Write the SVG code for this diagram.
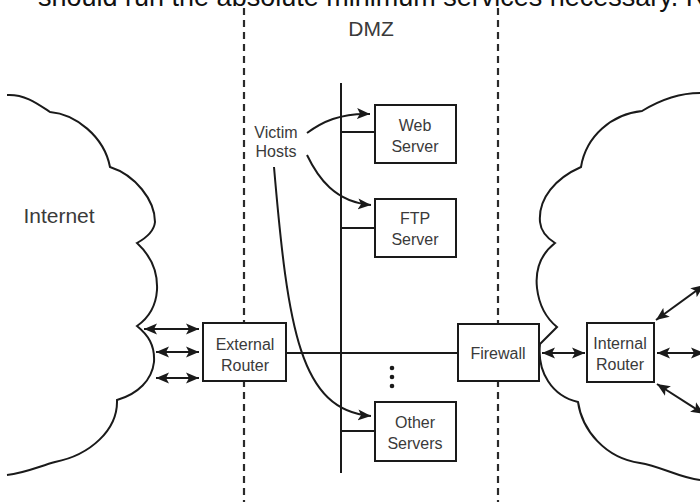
<svg xmlns="http://www.w3.org/2000/svg" width="700" height="502" viewBox="0 0 700 502">
<defs>
<style>
.ln{stroke:#1a1a1a;stroke-width:2;fill:none}
.dash{stroke:#2a2a2a;stroke-width:2.2;stroke-dasharray:7 5;fill:none}
.box{stroke:#1a1a1a;stroke-width:2;fill:#fff}
.cloud{stroke:#1a1a1a;stroke-width:2;fill:none}
.t{font-family:"Liberation Sans",Arial,sans-serif;font-size:16px;fill:#3a3a3a;text-anchor:middle}
.big{font-size:21px}
.arr{marker-end:url(#ah)}
.dbl{marker-start:url(#ah);marker-end:url(#ah)}
</style>
<marker id="ah" markerUnits="userSpaceOnUse" markerWidth="14" markerHeight="12" viewBox="0 0 14 12" refX="13" refY="6" orient="auto-start-reverse">
<path d="M0,0.5 L13,6 L0,11.5 L3,6 z" fill="#1a1a1a"/>
</marker>
</defs>

<text x="38" y="6" style="font-family:'Liberation Sans',Arial,sans-serif;font-size:27px;fill:#111">should run the absolute minimum services necessary. R</text>

<g id="zones">
<line class="dash" x1="244" y1="8" x2="244" y2="502"/>
<line class="dash" x1="498" y1="8" x2="498" y2="502"/>
<text class="t big" x="371" y="36">DMZ</text>
</g>

<g id="internet">
<path class="cloud" d="M7,95 C25,94 38,104 50,112 C75,114 104,136 110,167 C135,175 155,200 155,222 C154,232 146,238 137,243 C150,255 158,270 157,290 C156,305 150,317 137,326 C148,335 155,345 154,362 C152,380 138,394 117,400 C118,430 90,455 55,462 C40,466 25,473 7,475"/>
<text class="t big" x="59" y="223">Internet</text>
</g>

<g id="internal-net">
<path class="cloud" d="M700,93 C680,93 660,100 642,111 C612,114 586,136 581,167 C556,178 538,198 540,222 C541,232 547,238 555,243 C541,254 535,270 537,288 C539,305 546,318 557,327 L540,344 C537,372 552,396 578,402 C582,430 605,458 640,463 C660,466 680,478 700,480"/>
</g>

<g id="connectors">
<line class="ln" x1="341" y1="83" x2="341" y2="473"/>
<line class="ln" x1="341" y1="132" x2="375" y2="132"/>
<line class="ln" x1="341" y1="228" x2="375" y2="228"/>
<line class="ln" x1="341" y1="431" x2="375" y2="431"/>
<line class="ln" x1="286" y1="353" x2="458" y2="353"/>
<line class="ln dbl" x1="144" y1="329" x2="199" y2="329"/>
<line class="ln dbl" x1="156" y1="352" x2="199" y2="352"/>
<line class="ln dbl" x1="156" y1="378" x2="199" y2="378"/>
<line class="ln dbl" x1="542" y1="353" x2="585" y2="353"/>
<line class="ln dbl" x1="657" y1="353" x2="704" y2="353"/>
<line class="ln dbl" x1="656" y1="320" x2="704" y2="285"/>
<line class="ln dbl" x1="657" y1="384" x2="704" y2="414"/>
<path class="ln arr" d="M307,133 C322,122 340,113 370,114"/>
<path class="ln arr" d="M307,155 C318,178 335,202 371,205"/>
<path class="ln arr" d="M274,167 C288,330 300,410 371,416"/>
<circle cx="392" cy="368" r="2.3" fill="#1a1a1a"/>
<circle cx="392" cy="377" r="2.3" fill="#1a1a1a"/>
<circle cx="392" cy="386" r="2.3" fill="#1a1a1a"/>
</g>

<g id="victim-hosts">
<text class="t" x="276" y="138">Victim</text>
<text class="t" x="276" y="157">Hosts</text>
</g>

<g id="web-server">
<rect class="box" x="375" y="105" width="81" height="58"/>
<text class="t" x="415" y="131">Web</text>
<text class="t" x="415" y="152">Server</text>
</g>

<g id="ftp-server">
<rect class="box" x="375" y="199" width="81" height="58"/>
<text class="t" x="415" y="224">FTP</text>
<text class="t" x="415" y="245">Server</text>
</g>

<g id="other-servers">
<rect class="box" x="375" y="402" width="81" height="59"/>
<text class="t" x="415" y="428">Other</text>
<text class="t" x="415" y="449">Servers</text>
</g>

<g id="external-router">
<rect class="box" x="203" y="323" width="83" height="58"/>
<text class="t" x="245" y="350">External</text>
<text class="t" x="245" y="371">Router</text>
</g>

<g id="firewall">
<rect class="box" x="458" y="324" width="81" height="57"/>
<text class="t" x="498" y="359">Firewall</text>
</g>

<g id="internal-router">
<rect class="box" x="587" y="323" width="67" height="59"/>
<text class="t" x="620" y="349">Internal</text>
<text class="t" x="620" y="370">Router</text>
</g>
</svg>
